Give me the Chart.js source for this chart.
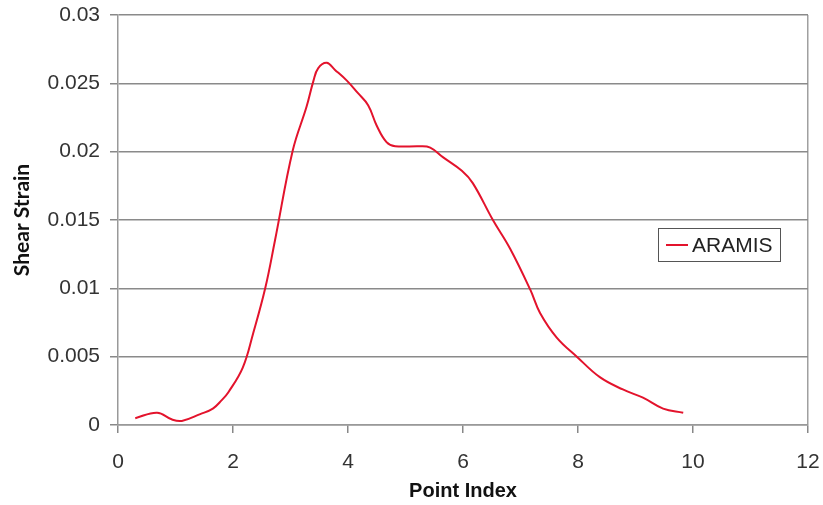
<!DOCTYPE html>
<html>
<head>
<meta charset="UTF-8">
<title>Shear Strain</title>
<script src="https://cdn.jsdelivr.net/npm/chart.js"></script>
<style>
  html, body { margin: 0; padding: 0; background: #fff; }
  #wrap { width: 823px; height: 505px; position: relative; }
</style>
</head>
<body>
<div id="wrap"><canvas id="grafico"></canvas></div>
<script>
// valores
const pointIndex = [0.30, 0.68, 0.94, 1.11, 1.43, 1.65, 1.80, 1.92, 2.17, 2.35, 2.56, 2.73, 3.04, 3.28, 3.40, 3.48, 3.63, 3.77, 3.98, 4.17, 4.35, 4.50, 4.67, 4.82, 5.25, 5.43, 5.65, 5.98, 6.17, 6.52, 6.82, 7.17, 7.34, 7.63, 7.98, 8.38, 8.78, 9.13, 9.48, 9.83];
const shearStrain = [0.0005, 0.0009, 0.0004, 0.0003, 0.0008, 0.0012, 0.0018, 0.0024, 0.0042, 0.0067, 0.0100, 0.0135, 0.0201, 0.0233, 0.0252, 0.0261, 0.0265, 0.0260, 0.0252, 0.0243, 0.0234, 0.0219, 0.0207, 0.0204, 0.0204, 0.0203, 0.0196, 0.0186, 0.0177, 0.0150, 0.0129, 0.0099, 0.0082, 0.0064, 0.0050, 0.0035, 0.0026, 0.0020, 0.0012, 0.0009];
const xTicks = [0, 2, 4, 6, 8, 10, 12];
const yTicks = [0, 0.005, 0.01, 0.015, 0.02, 0.025, 0.03];
const yTickLabels = ['0', '0.005', '0.01', '0.015', '0.02', '0.025', '0.03'];
const serieNome = 'ARAMIS';

const corLinha = '#e3132c';
const corGrade = '#8a8a8a';
const fonteTick = { family: '"Liberation Sans", Arial, sans-serif', size: 21 };

let pontos = [];
for (let i = 0; i < pointIndex.length; i++) {
    pontos.push({ x: pointIndex[i], y: shearStrain[i] });
}

// legenda com caixa dentro da área do gráfico
const legendaCaixa = {
    id: 'legendaCaixa',
    afterDraw(chart) {
        const ctx = chart.ctx;
        const x0 = 658, y0 = 228, w = 122, h = 33;
        ctx.save();
        ctx.fillStyle = '#fff';
        ctx.fillRect(x0, y0, w, h);
        ctx.strokeStyle = '#555';
        ctx.lineWidth = 1;
        ctx.strokeRect(x0 + 0.5, y0 + 0.5, w, h);
        ctx.strokeStyle = corLinha;
        ctx.lineWidth = 2;
        ctx.beginPath();
        ctx.moveTo(666, y0 + 17);
        ctx.lineTo(688, y0 + 17);
        ctx.stroke();
        ctx.fillStyle = '#222';
        ctx.font = '21px "Liberation Sans", Arial, sans-serif';
        ctx.textBaseline = 'middle';
        ctx.fillText(chart.data.datasets[0].label, 692, y0 + 18);
        ctx.restore();
    }
};

const config = {
    type: 'line',
    data: {
        datasets: [{
            label: serieNome,
            data: pontos,
            borderColor: corLinha,
            borderWidth: 2,
            tension: 0.4,
            pointRadius: 0,
            fill: false
        }]
    },
    options: {
        responsive: true,
        maintainAspectRatio: false,
        animation: false,
        layout: { padding: { top: 15, right: 15, left: 0, bottom: 0 } },
        plugins: {
            legend: { display: false },
            tooltip: { enabled: false }
        },
        scales: {
            x: {
                type: 'linear',
                min: 0,
                max: 12,
                afterBuildTicks: (axis) => { axis.ticks = xTicks.map(v => ({ value: v })); },
                afterFit: (axis) => {
                    axis.height = 80;
                    axis.paddingLeft = 0;
                    axis.paddingRight = 0;
                },
                grid: {
                    drawOnChartArea: true,
                    color: (c) => (c.tick && c.tick.value === 12) ? '#a0a0a0' : 'rgba(0,0,0,0)',
                    tickColor: '#888',
                    tickLength: 8,
                    lineWidth: 1.5
                },
                border: { color: '#999', width: 1.5 },
                ticks: { color: '#333', font: fonteTick, padding: 17, maxRotation: 0 },
                title: {
                    display: true,
                    text: 'Point Index',
                    color: '#111',
                    font: { family: '"Liberation Sans", Arial, sans-serif', size: 20, weight: 'bold' },
                    padding: { top: 0, bottom: 2 }
                }
            },
            y: {
                min: 0,
                max: 0.03,
                afterBuildTicks: (axis) => { axis.ticks = yTicks.map(v => ({ value: v })); },
                afterFit: (axis) => {
                    axis.width = 118;
                    axis.paddingTop = 0;
                    axis.paddingBottom = 0;
                },
                grid: { color: corGrade, lineWidth: 1.5, tickLength: 8, tickColor: '#888' },
                border: { color: '#999', width: 1.5 },
                ticks: {
                    color: '#333',
                    font: fonteTick,
                    padding: 10,
                    callback: (v) => yTickLabels[yTicks.indexOf(v)]
                },
                title: {
                    display: true,
                    text: 'Shear Strain',
                    color: '#111',
                    font: { family: 'Lato, "Open Sans", sans-serif', size: 21, weight: 'bold' },
                    padding: { top: 10, bottom: 0 }
                }
            }
        }
    },
    plugins: [legendaCaixa]
};

let myChart = new Chart(document.getElementById('grafico'), config);
</script>
</body>
</html>
